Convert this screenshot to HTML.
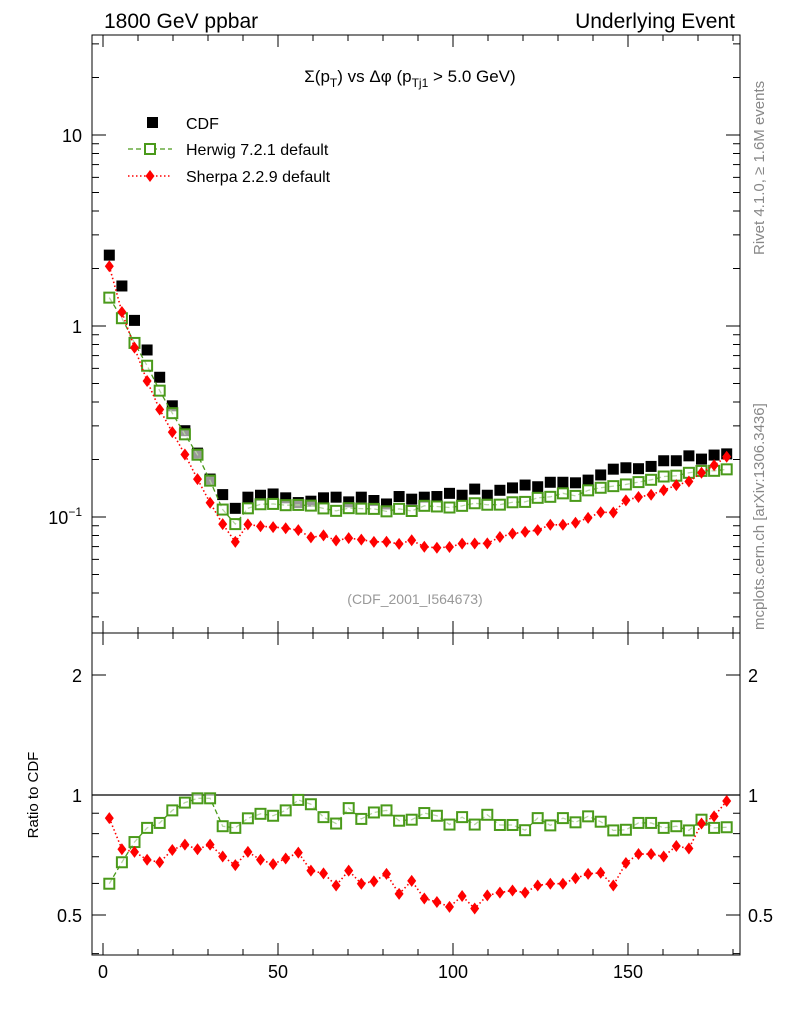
<!DOCTYPE html>
<html><head><meta charset="utf-8"><style>
body{margin:0;background:#fff;}
svg{display:block;font-family:"Liberation Sans",sans-serif;}
</style></head><body>
<svg id="c" width="786" height="1024" viewBox="0 0 786 1024">
<text x="104" y="28" font-size="21">1800 GeV ppbar</text>
<text x="735" y="28" font-size="21" text-anchor="end">Underlying Event</text>
<text x="410" y="82" font-size="17" text-anchor="middle">Σ(p<tspan font-size="12" dy="5">T</tspan><tspan dy="-5">) vs Δφ (p</tspan><tspan font-size="12" dy="5">Tj1</tspan><tspan dy="-5"> &gt; 5.0 GeV)</tspan></text>
<text x="415" y="604" font-size="14" fill="#999" text-anchor="middle">(CDF_2001_I564673)</text>
<text transform="translate(764,255) rotate(-90)" font-size="15" fill="#888">Rivet 4.1.0, ≥ 1.6M events</text>
<text transform="translate(764,630) rotate(-90)" font-size="15" fill="#888">mcplots.cern.ch [arXiv:1306.3436]</text>
<text transform="translate(38,795) rotate(-90)" font-size="15" text-anchor="middle">Ratio to CDF</text>
<g>
<rect x="147" y="117" width="11" height="11" fill="#000"/>
<text x="186" y="129" font-size="16">CDF</text>
<line x1="128" y1="149" x2="172" y2="149" stroke="#4a9a1a" stroke-width="1.3" stroke-dasharray="5,3"/>
<rect x="145" y="144" width="10" height="10" fill="#fff" stroke="#4a9a1a" stroke-width="2"/>
<text x="186" y="155" font-size="16">Herwig 7.2.1 default</text>
<line x1="128" y1="176" x2="172" y2="176" stroke="red" stroke-width="1.5" stroke-dasharray="1.5,2.5"/>
<path d="M150,170 L154.5,176 L150,182 L145.5,176Z" fill="red"/>
<text x="186" y="182" font-size="16">Sherpa 2.2.9 default</text>
</g>
</svg>
<script>
const cdf=[2.35,1.62,1.07,0.749,0.539,0.382,0.283,0.216,0.158,0.131,0.111,0.127,0.130,0.132,0.126,0.119,0.121,0.126,0.127,0.120,0.127,0.122,0.117,0.128,0.124,0.127,0.128,0.133,0.130,0.140,0.130,0.138,0.142,0.147,0.144,0.152,0.152,0.151,0.156,0.166,0.178,0.181,0.179,0.184,0.197,0.197,0.209,0.201,0.211,0.214];
const herwigRatio=[0.599,0.678,0.762,0.827,0.851,0.915,0.957,0.981,0.981,0.835,0.827,0.874,0.897,0.887,0.915,0.972,0.948,0.880,0.848,0.927,0.871,0.904,0.915,0.862,0.867,0.901,0.887,0.843,0.880,0.843,0.892,0.841,0.841,0.816,0.875,0.839,0.875,0.854,0.884,0.857,0.815,0.818,0.851,0.851,0.827,0.835,0.815,0.867,0.827,0.830];
const sherpaRatio=[0.875,0.731,0.720,0.688,0.678,0.728,0.751,0.731,0.751,0.701,0.667,0.720,0.688,0.671,0.693,0.717,0.646,0.636,0.593,0.646,0.599,0.607,0.634,0.565,0.609,0.550,0.539,0.524,0.558,0.519,0.560,0.569,0.576,0.569,0.593,0.599,0.599,0.618,0.634,0.638,0.593,0.675,0.711,0.711,0.701,0.745,0.734,0.848,0.884,0.966];
const xTicks=[0,50,100,150];
const yMainTicks=[{v:10,t:"10"},{v:1,t:"1"}];
const yRatioTicks=[{v:2,t:"2"},{v:1,t:"1"},{v:0.5,t:"0.5"}];

const svg=document.getElementById('c');
const NS="http://www.w3.org/2000/svg";
function mk(tag,attrs,parent){const e=document.createElementNS(NS,tag);for(const k in attrs)e.setAttribute(k,attrs[k]);(parent||svg).appendChild(e);return e;}
const L=92,R=740,T1=35,B1=633,T2=633,B2=955;
const xs=v=>103+v*3.5;
const ym=v=>326-191*Math.log10(v);
const yr=v=>795-398.6*Math.log10(v);
const xc=i=>1.8+3.6*i;

// frames
let f1=mk('rect',{x:L,y:T1,width:R-L,height:B1-T1,fill:'none',stroke:'#000','stroke-width':1});


let f2=mk('rect',{x:L,y:T2,width:R-L,height:B2-T2,fill:'none',stroke:'#000','stroke-width':1});



// x ticks
for(let v=0;v<=180;v+=10){const x=xs(v);const big=v%50===0;const len=big?12:6;
 [T1,T2].forEach(t=>mk('line',{x1:x,y1:t,x2:x,y2:t+len,stroke:'#000'}));
 [B1,B2].forEach(b=>mk('line',{x1:x,y1:b,x2:x,y2:b-len,stroke:'#000'}));}
xTicks.forEach(v=>{const t=mk('text',{x:xs(v),y:978,'font-size':18,'text-anchor':'middle'});t.textContent=v;
 
 });

// main y ticks (log)
for(let d=-2;d<=1;d++){for(let m=1;m<=9;m++){const v=m*Math.pow(10,d);const y=ym(v);if(y<T1||y>B1)continue;const len=m===1?14:7;
 mk('line',{x1:L,y1:y,x2:L+len,y2:y,stroke:'#000'});mk('line',{x1:R,y1:y,x2:R-len,y2:y,stroke:'#000'});}}
yMainTicks.forEach(o=>{const t=mk('text',{x:82,y:ym(o.v)+7,'font-size':18,'text-anchor':'end'});t.textContent=o.t;
 
 });
const t01=mk('text',{x:82,y:ym(0.1)+7,'font-size':18,'text-anchor':'end'});t01.innerHTML='10<tspan font-size="12" dy="-8">−1</tspan>';



// ratio y ticks
[0.4,0.5,0.6,0.7,0.8,0.9,1,2].forEach(v=>{const y=yr(v);const big=(v===0.5||v===1||v===2);const len=big?14:7;
 mk('line',{x1:L,y1:y,x2:L+len,y2:y,stroke:'#000'});mk('line',{x1:R,y1:y,x2:R-len,y2:y,stroke:'#000'});});
yRatioTicks.forEach(o=>{[[82,'end'],[748,'start']].forEach(p=>{const t=mk('text',{x:p[0],y:yr(o.v)+7,'font-size':18,'text-anchor':p[1]});t.textContent=o.t;
 
 });});
mk('line',{x1:L,y1:yr(1),x2:R,y2:yr(1),stroke:'#000','stroke-width':1.2});

const herwig=cdf.map((c,i)=>c*herwigRatio[i]);
const sherpa=cdf.map((c,i)=>c*sherpaRatio[i]);

function series(vals,yf,kind,name){
 const pts=vals.map((v,i)=>[xs(xc(i)),yf(v)]);
 if(kind!=='cdf'){const pl=mk('polyline',{points:pts.map(p=>p.join(',')).join(' '),fill:'none',
   stroke:kind==='h'?'#4a9a1a':'red','stroke-width':kind==='h'?1.3:1.6,'stroke-dasharray':kind==='h'?'5,3':'1.5,2.5'});
  
  }
 pts.forEach(p=>{let e;
  if(kind==='cdf')e=mk('rect',{x:p[0]-5.5,y:p[1]-5.5,width:11,height:11,fill:'#000'});
  else if(kind==='h')e=mk('rect',{x:p[0]-5,y:p[1]-5,width:10,height:10,fill:'#fff','fill-opacity':0.6,stroke:'#4a9a1a','stroke-width':2});
  else e=mk('path',{d:`M${p[0]},${p[1]-6}L${p[0]+4.5},${p[1]}L${p[0]},${p[1]+6}L${p[0]-4.5},${p[1]}Z`,fill:'red'});
  
  });
}
series(cdf,ym,'cdf','cdf');
series(herwig,ym,'h','herwig');
series(sherpa,ym,'s','sherpa');
series(herwigRatio,yr,'h','herwig-ratio');
series(sherpaRatio,yr,'s','sherpa-ratio');
</script>
</body></html>
